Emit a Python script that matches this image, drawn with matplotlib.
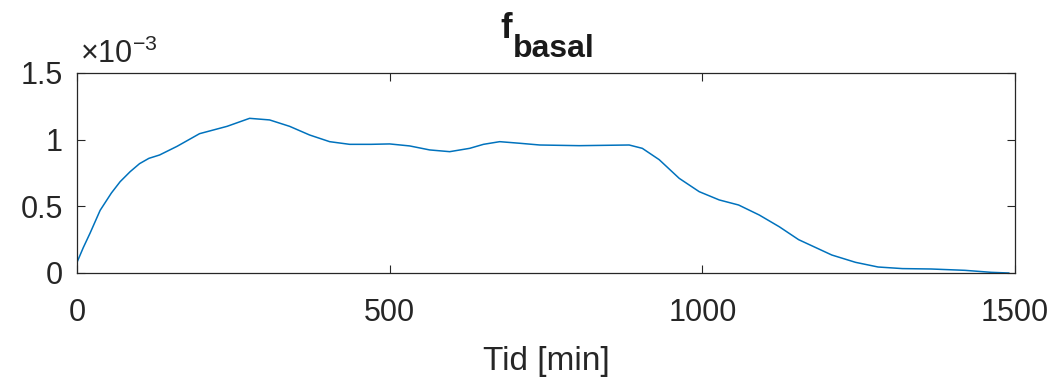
import numpy as np
import matplotlib
matplotlib.use("Agg")
import matplotlib.pyplot as plt
from matplotlib.ticker import FuncFormatter

# temps en minutes et valeurs (en unités de 1e-3)
tid = [0, 10, 21, 37, 55, 69, 85, 100, 115, 132, 160, 196, 240, 276, 308,
       340, 372, 404, 436, 470, 500, 532, 564, 596, 628, 650, 676, 708, 740,
       803, 883, 904, 931, 963, 995, 1027, 1058, 1091, 1123, 1154, 1207,
       1245, 1281, 1320, 1366, 1420, 1462, 1490]
f_basal = [0.08, 0.19, 0.30, 0.47, 0.60, 0.685, 0.76, 0.82, 0.86, 0.885,
           0.95, 1.045, 1.10, 1.16, 1.148, 1.10, 1.035, 0.985, 0.965, 0.965,
           0.968, 0.953, 0.923, 0.91, 0.935, 0.965, 0.985, 0.973, 0.96,
           0.955, 0.96, 0.935, 0.85, 0.71, 0.61, 0.548, 0.51, 0.435, 0.347,
           0.25, 0.135, 0.08, 0.045, 0.033, 0.03, 0.02, 0.005, 0.0]
xticks = [0, 500, 1000, 1500]
yticks = [0, 0.5e-3, 1e-3, 1.5e-3]

plt.rcParams['font.family'] = ['Liberation Sans', 'DejaVu Sans']
plt.rcParams['mathtext.fontset'] = 'custom'
plt.rcParams['mathtext.rm'] = 'Liberation Sans'
plt.rcParams['mathtext.it'] = 'Liberation Sans'
plt.rcParams['axes.unicode_minus'] = False

W, H = 1058, 383
fig = plt.figure(figsize=(W / 100, H / 100), dpi=100)
ax = fig.add_axes([77 / W, 110 / H, 938 / W, 200 / H])

ax.plot(tid, np.array(f_basal) * 1e-3, color='#0072BD', linewidth=1.1)

ax.set_xlim(0, 1500)
ax.set_ylim(0, 1.5e-3)
ax.set_xticks(xticks)
ax.set_yticks(yticks)
ax.yaxis.set_major_formatter(FuncFormatter(lambda v, p: f'{v * 1e3:g}'))

grey = '#262626'
ax.tick_params(direction='in', length=6, width=0.8, labelsize=22,
               colors=grey, top=True, right=True)
ax.tick_params(axis='x', pad=18)
ax.tick_params(axis='y', pad=10)
for s in ax.spines.values():
    s.set_color(grey)
    s.set_linewidth(0.9)

ax.set_xlabel('Tid [min]', fontsize=24, color=grey, labelpad=13)

# facteur d'échelle comme dans MATLAB
fig.text(80 / W, 1 - 63 / H, r'$\times$10$^{-3}$', fontsize=22, color=grey,
         va='baseline', ha='left')

# titre f_basal en gras
fig.text(500 / W, 1 - 38 / H, 'f', fontsize=25, fontweight='bold',
         color='#1a1a1a', va='baseline', ha='left')
fig.text(513 / W, 1 - 57 / H, 'basal', fontsize=23, fontweight='bold',
         color='#1a1a1a', va='baseline', ha='left')

fig.savefig('out.png', dpi=100)
